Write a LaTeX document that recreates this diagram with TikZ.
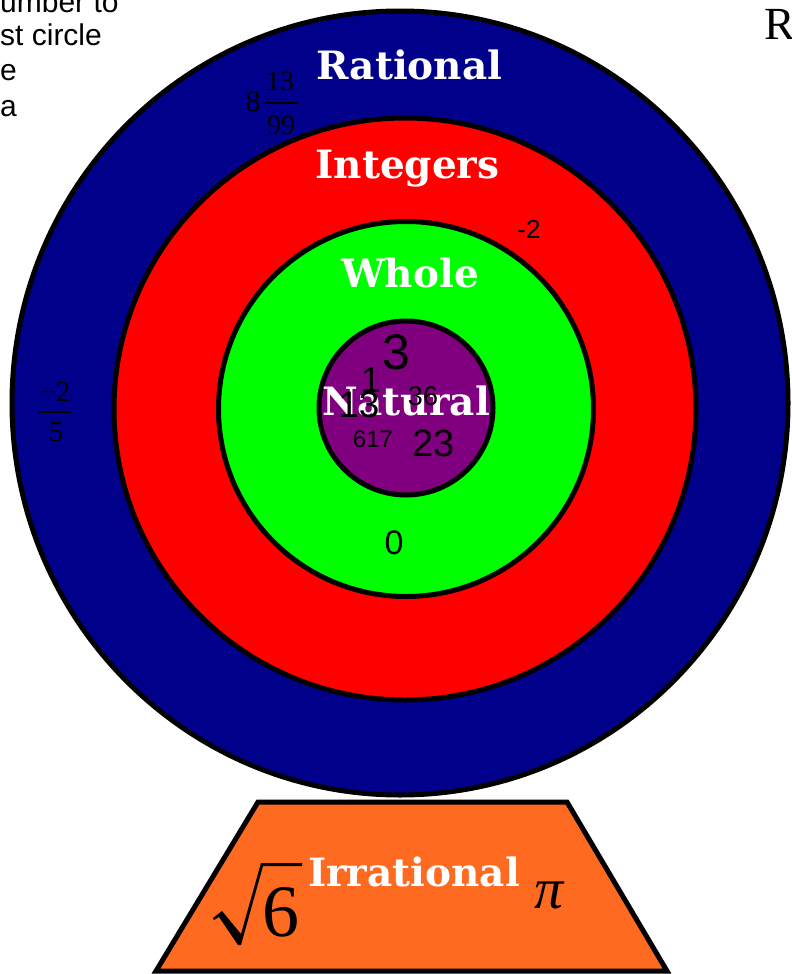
\documentclass[tikz,border=0pt]{standalone}
\usepackage{fontspec}
\usetikzlibrary{shapes.geometric}
\setmainfont{Liberation Serif}
\newfontfamily\labfont{DejaVu Serif}
\newfontfamily\sansf{Liberation Sans}
\definecolor{ratblue}{RGB}{0,0,139}
\definecolor{intred}{RGB}{255,0,0}
\definecolor{wholegreen}{RGB}{0,255,0}
\definecolor{natpurple}{RGB}{128,0,128}
\definecolor{irrorange}{RGB}{255,106,33}
\tikzset{
  ring/.style={draw=black, line width=5pt, inner sep=0pt},
  lab/.style={text=white, inner sep=0pt, anchor=base, font=\labfont\bfseries\fontsize{39}{42}\selectfont},
  num/.style={inner sep=0pt, font=\sansf\fontsize{#1}{#1}\selectfont},
  ser/.style={inner sep=0pt, font=\rmfamily\fontsize{#1}{#1}\selectfont},
  note/.style={inner sep=0pt, anchor=base west, font=\sansf\fontsize{30}{34}\selectfont},
  bar/.style={line width=1.5pt}
}
\begin{document}
\begin{tikzpicture}[x=1pt,y=-1pt]
\useasboundingbox (0,0) rectangle (792,974);
\clip (0,0) rectangle (792,974);
% partly visible note text
\node[note] (n1) at (0,13) {umber to};
\node[note] (n2) at (0,46) {st circle};
\node[note] (n3) at (0,81) {e};
\node[note] (n4) at (0,116) {a};
\node[inner sep=0pt, anchor=base west, font=\rmfamily\fontsize{46}{48}\selectfont] (R) at (764,40) {R};
% rings
\node[ring, ellipse, fill=ratblue, minimum width=776pt, minimum height=784pt] (rat) at (400,403) {};
\node[ring, circle, fill=intred, minimum size=582pt] (int) at (405,409) {};
\node[ring, circle, fill=wholegreen, minimum size=375pt] (whole) at (406,409) {};
\node[ring, circle, fill=natpurple, minimum size=174pt] (nat) at (406,408) {};
% base
\filldraw[fill=irrorange, draw=black, line width=5pt, line join=miter]
  (258,802) -- (567,802) -- (667,971) -- (156,971) -- cycle;
% labels
\node[lab] (lrat) at (409.5,80) {Rational};
\node[lab] (lint) at (407.5,178) {Integers};
\node[lab] (lwhole) at (410,287) {Whole};
\node[lab] (lnat) at (406,415) {Natural};
\node[lab] (lirr) at (414,886) {Irrational};
% rational numbers
\node[ser=30] (eight) at (253,102) {8};
\node[ser=28] (thirteen) at (280,81) {13};
\node[ser=28] (ninetynine) at (281,125) {99};
\draw[bar] (265,103) -- (298,103);
\node[ser=29] (mtwo) at (55,392) {−2};
\node[ser=29] (five) at (56,432) {5};
\draw[bar] (39,412) -- (71,412);
% integers, whole
\node[num=26] (negtwo) at (529,229) {-2};
\node[num=34] (zero) at (394,543) {0};
% natural numbers
\node[num=50] (three) at (396,352) {3};
\node[num=36] (one) at (371,380) {1};
\node[num=37] (thirteenN) at (359,405) {13};
\node[num=27] (thirtysix) at (423,396) {36};
\node[num=24] (sixseventeen) at (373,439) {617};
\node[num=38] (twentythree) at (434,443) {23};
% irrational numbers
\node[ser=74] (six) at (281,912) {6};
\fill (213,918) -- (222,911) -- (241,934) -- (261,863) -- (302,863) -- (302,866) -- (263,866) -- (241,945) -- (238,945) -- (219,917) -- (214,920) -- cycle;
\node[inner sep=0pt, font=\rmfamily\itshape\fontsize{58}{60}\selectfont] (pi) at (549,895) {π};
\end{tikzpicture}
\end{document}
